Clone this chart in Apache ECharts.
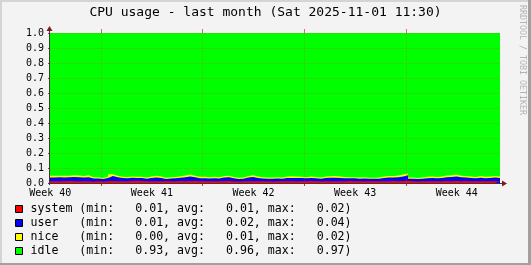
<!DOCTYPE html>
<html><head><meta charset="utf-8">
<script src="https://cdn.jsdelivr.net/npm/echarts@6/dist/echarts.min.js"></script>
<style>html,body{margin:0;padding:0;background:#f3f3f3}#c{width:531px;height:265px}</style>
</head><body><div id="c"></div>
<script>
const titleText = 'CPU usage - last month (Sat 2025-11-01 11:30)';
const watermark = 'RRDTOOL / TOBI OETIKER';
const weekLabels = ['Week 40', 'Week 41', 'Week 42', 'Week 43', 'Week 44'];
const weekLabelHours = [0.5, 168.5, 336.5, 504.5, 672.5];
const weekStartHours = [84.5, 252.5, 420.5, 588.5];
const dayHours = [12.5, 36.5, 60.5, 84.5, 108.5, 132.5, 156.5, 180.5, 204.5, 228.5, 252.5, 276.5, 300.5, 324.5, 348.5, 372.5, 396.5, 420.5, 444.5, 468.5, 492.5, 516.5, 540.5, 564.5, 588.5, 612.5, 636.5, 660.5, 684.5, 708.5, 732.5];
const spanHours = 744;
const stepHours = 8;

const seriesNames = ['system', 'user', 'nice', 'idle'];
const seriesColors = ['#ff0000', '#0000ff', '#ffff00', '#00ff00'];
const statMin = ['0.01', '0.01', '0.00', '0.93'];
const statAvg = ['0.01', '0.02', '0.01', '0.96'];
const statMax = ['0.02', '0.04', '0.02', '0.97'];

const system = [.012,.012,.011,.013,.012,.012,.011,.012,.010,.011,.010,.012,.013,.012,.011,.012,.014,.015,.013,.011,.012,.012,.011,.011,.012,.012,.013,.012,.014,.013,.012,.011,.012,.012,.011,.012,.013,.011,.010,.011,.012,.012,.011,.012,.011,.010,.011,.012,.012,.011,.012,.011,.012,.013,.012,.011,.012,.011,.012,.012,.011,.013,.012,.011,.012,.011,.012,.011,.012,.012,.013,.012,.014,.015,.011,.010,.012,.011,.012,.011,.012,.013,.012,.013,.012,.013,.012,.011,.012,.011,.012,.012,.011];
const user = [.025,.027,.026,.025,.028,.026,.025,.027,.020,.019,.017,.022,.033,.027,.022,.020,.021,.019,.020,.018,.021,.024,.022,.016,.018,.019,.022,.026,.030,.025,.020,.021,.018,.020,.019,.024,.025,.020,.017,.018,.024,.028,.022,.018,.017,.018,.019,.017,.022,.023,.021,.022,.019,.021,.020,.018,.022,.024,.023,.022,.020,.018,.019,.017,.018,.017,.016,.018,.022,.024,.023,.027,.030,.036,.017,.016,.017,.021,.022,.020,.022,.026,.028,.030,.026,.024,.022,.020,.023,.021,.022,.024,.023];
const nice = [.012,.010,.012,.010,.011,.012,.010,.012,.008,.008,.007,.009,.012,.010,.009,.008,.009,.008,.009,.008,.010,.012,.010,.008,.008,.009,.010,.012,.012,.011,.009,.010,.008,.010,.009,.011,.010,.009,.008,.007,.010,.012,.010,.009,.008,.008,.008,.007,.010,.011,.010,.009,.008,.009,.008,.008,.010,.010,.011,.009,.009,.008,.008,.008,.009,.007,.007,.008,.010,.011,.010,.011,.012,.013,.008,.007,.008,.009,.010,.009,.010,.011,.012,.013,.011,.010,.010,.009,.011,.010,.010,.011,.010];
const idle = [.951,.951,.951,.952,.949,.950,.954,.949,.962,.962,.966,.957,.942,.951,.958,.960,.956,.958,.958,.963,.957,.952,.957,.965,.962,.960,.955,.950,.944,.951,.959,.958,.962,.958,.961,.953,.952,.960,.965,.964,.954,.948,.957,.961,.964,.964,.962,.964,.956,.955,.957,.958,.961,.957,.960,.963,.956,.955,.954,.957,.960,.961,.961,.964,.961,.965,.965,.963,.956,.953,.954,.950,.944,.936,.964,.967,.963,.959,.956,.960,.956,.950,.948,.944,.951,.953,.956,.960,.954,.958,.956,.953,.956];

const seriesValues = [system, user, nice, idle];
const MONO = '"DejaVu Sans Mono", monospace';

// RRD-style stacking: each layer sits on the ones listed before it;
// each sample holds its value over its whole interval.
function stackedStepPairs(layer) {
  const out = [];
  const n = seriesValues[0].length;
  for (let i = 0; i < n; i++) {
    let top = 0;
    for (let s = 0; s <= layer; s++) top += seriesValues[s][i];
    out.push([i * stepHours, top]);
    out.push([Math.min((i + 1) * stepHours, spanHours), top]);
  }
  return out;
}

const chart = echarts.init(document.getElementById('c'), null, {renderer: 'canvas'});
const gridDotColor = 'rgba(230,60,60,0.32)';

// draw from the top layer down so lower layers paint over upper fills
const series = [3, 2, 1, 0].map((i) => ({
  name: seriesNames[i], type: 'line', symbol: 'none', showSymbol: false,
  xAxisIndex: 0, yAxisIndex: 0,
  data: stackedStepPairs(i),
  lineStyle: {width: 0}, areaStyle: {color: seriesColors[i], opacity: 1, origin: 'start'},
  itemStyle: {color: seriesColors[i]}, z: 2
}));
series.push({
  type: 'line', xAxisIndex: 0, yAxisIndex: 0, data: [[0, 0]], symbol: 'none',
  lineStyle: {width: 0, opacity: 0}, z: 6, silent: true,
  markLine: {
    silent: true, symbol: ['none', 'none'], label: {show: false}, animation: false,
    lineStyle: {type: [1, 1], color: gridDotColor, width: 1},
    data: weekStartHours.map(h => ({xAxis: h}))
  }
});

chart.setOption({
  animation: false,
  backgroundColor: '#f3f3f3',
  grid: {left: 50, top: 33, width: 450, height: 150, containLabel: false},
  xAxis: [
    {type: 'value', min: 0, max: spanHours, position: 'bottom',
     axisLine: {show: false},
     axisTick: {show: true, customValues: weekStartHours, length: 3, lineStyle: {color: '#cc3333'}},
     axisLabel: {customValues: weekLabelHours, margin: 5, color: '#000', fontFamily: MONO, fontSize: 10,
       formatter: v => { const k = weekLabelHours.findIndex(h => Math.abs(h - v) < 1e-6); return k >= 0 ? weekLabels[k] : ''; }},
     splitLine: {show: false}},
    {type: 'value', min: 0, max: spanHours, position: 'top',
     axisLine: {show: false}, axisLabel: {show: false}, splitLine: {show: false},
     axisTick: {show: true, customValues: dayHours, length: 4, lineStyle: {color: '#b0b0b0'}}},
    {type: 'value', min: 0, max: spanHours, position: 'top', offset: 0,
     axisLine: {show: false}, axisLabel: {show: false}, splitLine: {show: false},
     axisTick: {show: true, customValues: weekStartHours, length: 4, lineStyle: {color: '#d07070'}}}
  ],
  yAxis: [
    {type: 'value', min: 0, max: 1, interval: 0.1, z: 5,
     axisLine: {show: false},
     axisTick: {show: true, length: 2, lineStyle: {color: '#cc3333'}},
     axisLabel: {margin: 6, color: '#000', fontFamily: MONO, fontSize: 10, formatter: v => v.toFixed(1)},
     splitLine: {show: true, lineStyle: {type: [1, 1], color: gridDotColor, width: 1}}},
    {type: 'value', min: 0, max: 1, interval: 0.1, position: 'right',
     axisLine: {show: false}, axisLabel: {show: false}, splitLine: {show: false},
     axisTick: {show: true, length: 2, lineStyle: {color: '#e08080'}}}
  ],
  series
});

const xL = chart.convertToPixel({xAxisIndex: 0}, 0);
const xR = chart.convertToPixel({xAxisIndex: 0}, spanHours);
const yB = chart.convertToPixel({yAxisIndex: 0}, 0);
const yT = chart.convertToPixel({yAxisIndex: 0}, 1);

const axisCol = '#3a3a3a';
const arrowCol = '#801818';
const W = 531, H = 265;
const graphics = [
  {type: 'rect', shape: {x: 0, y: 0, width: W, height: 2}, style: {fill: '#d4d4d4'}, silent: true},
  {type: 'rect', shape: {x: 0, y: 0, width: 2, height: H}, style: {fill: '#d4d4d4'}, silent: true},
  {type: 'rect', shape: {x: W - 3, y: 0, width: 3, height: H}, style: {fill: '#a0a0a0'}, silent: true},
  {type: 'rect', shape: {x: 0, y: H - 2, width: W, height: 2}, style: {fill: '#a0a0a0'}, silent: true},
  {type: 'text', x: W / 2, y: 13, silent: true,
   style: {text: titleText, fill: '#000', fontFamily: MONO, fontSize: 13, align: 'center', verticalAlign: 'middle'}},
  {type: 'text', x: 522, y: 5, rotation: -Math.PI / 2, silent: true,
   style: {text: watermark, fill: '#b4b4b4', fontFamily: MONO, fontSize: 8.3, align: 'left', verticalAlign: 'middle'}},
  {type: 'line', z: 10, shape: {x1: xL - 2, y1: yB + 0.5, x2: xR + 3, y2: yB + 0.5}, style: {stroke: axisCol, lineWidth: 1}, silent: true},
  {type: 'line', z: 10, shape: {x1: xL - 0.5, y1: yB + 2, x2: xL - 0.5, y2: yT - 3}, style: {stroke: axisCol, lineWidth: 1}, silent: true},
  {type: 'polygon', z: 11, shape: {points: [[xL - 0.5, yT - 7], [xL - 3.5, yT - 2], [xL + 2.5, yT - 2]]}, style: {fill: arrowCol}, silent: true},
  {type: 'polygon', z: 11, shape: {points: [[xR + 7, yB + 0.5], [xR + 2, yB - 2.5], [xR + 2, yB + 3.5]]}, style: {fill: arrowCol}, silent: true}
];
seriesNames.forEach((name, i) => {
  const y = 209 + i * 14;
  graphics.push({type: 'rect', shape: {x: 15.5, y: y - 3.5, width: 7, height: 7}, silent: true,
    style: {fill: seriesColors[i], stroke: '#000', lineWidth: 1}});
  const txt = name.padEnd(6) + ' (min:   ' + statMin[i] + ', avg:   ' + statAvg[i] + ', max:   ' + statMax[i] + ')';
  graphics.push({type: 'text', x: 30.5, y: y, silent: true,
    style: {text: txt, fill: '#000', fontFamily: MONO, fontSize: 11.6, align: 'left', verticalAlign: 'middle'}});
});
chart.setOption({graphic: graphics});
</script>
</body></html>
